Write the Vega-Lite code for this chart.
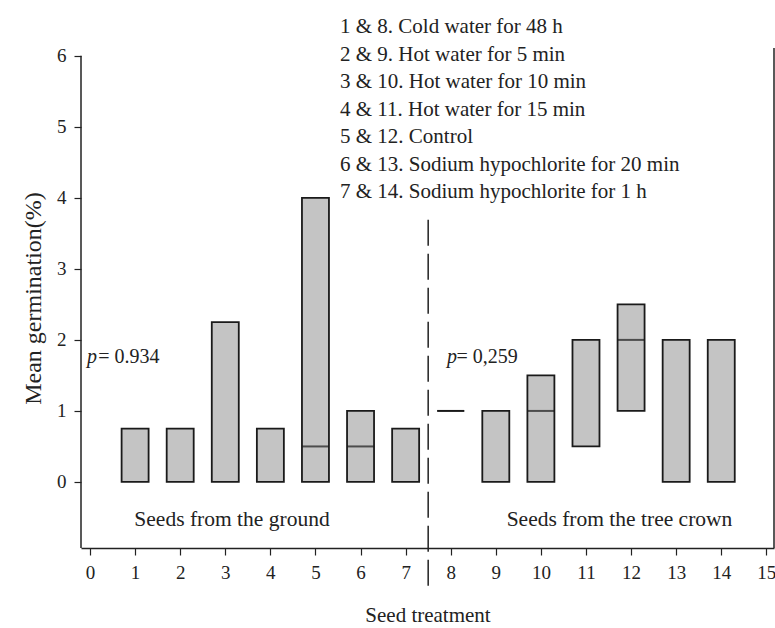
{
  "$schema": "https://vega.github.io/schema/vega-lite/v6.json",
  "width": 693,
  "height": 500,
  "autosize": "none",
  "padding": {"left": 81, "top": 48, "right": 1, "bottom": 80},
  "background": "white",
  "data": {"values": [{}]},
  "config": {
    "view": {"stroke": null},
    "font": "Liberation Serif",
    "axis": {"grid": false, "domainColor": "#222", "tickColor": "#222", "labelColor": "#222", "titleColor": "#222", "labelFont": "Liberation Serif", "titleFont": "Liberation Serif", "titleFontWeight": "normal", "domainWidth": 1.5, "tickWidth": 1.2}
  },
  "datasets": {
    "boxes": [
      {"treatment": 1, "low": 0, "high": 0.75, "median": null},
      {"treatment": 2, "low": 0, "high": 0.75, "median": null},
      {"treatment": 3, "low": 0, "high": 2.25, "median": null},
      {"treatment": 4, "low": 0, "high": 0.75, "median": null},
      {"treatment": 5, "low": 0, "high": 4, "median": 0.5},
      {"treatment": 6, "low": 0, "high": 1, "median": 0.5},
      {"treatment": 7, "low": 0, "high": 0.75, "median": null},
      {"treatment": 8, "low": 1, "high": 1, "median": 1},
      {"treatment": 9, "low": 0, "high": 1, "median": null},
      {"treatment": 10, "low": 0, "high": 1.5, "median": 1},
      {"treatment": 11, "low": 0.5, "high": 2, "median": null},
      {"treatment": 12, "low": 1, "high": 2.5, "median": 2},
      {"treatment": 13, "low": 0, "high": 2, "median": null},
      {"treatment": 14, "low": 0, "high": 2, "median": null}
    ]
  },
  "layer": [
    {
      "data": {"name": "boxes"},
      "mark": {"type": "bar", "width": 27, "fill": "#c4c4c4", "stroke": "#1a1a1a", "strokeWidth": 1.8},
      "encoding": {
        "x": {"field": "treatment", "type": "quantitative", "scale": {"domain": [-0.2, 15.17], "nice": false, "zero": false, "padding": 0},
          "axis": {"values": [0,1,2,3,4,5,6,7,8,9,10,11,12,13,14,15], "format": "d", "title": "Seed treatment", "labelFontSize": 19, "titleFontSize": 21, "tickSize": 7, "labelPadding": 8, "titlePadding": 22, "labelFlush": false}},
        "y": {"field": "low", "type": "quantitative", "scale": {"domain": [-0.93, 6.11], "nice": false, "zero": false, "padding": 0},
          "axis": {"values": [0,1,2,3,4,5,6], "format": "d", "title": "Mean germination(%)", "labelFontSize": 19, "titleFontSize": 24, "tickSize": 7, "labelPadding": 8, "titlePadding": 11, "domain": false}},
        "y2": {"field": "high"}
      }
    },
    {
      "data": {"name": "boxes"},
      "transform": [{"filter": "datum.median != null"}],
      "mark": {"type": "tick", "orient": "horizontal", "size": 27, "thickness": 2, "color": "#1a1a1a"},
      "encoding": {
        "x": {"field": "treatment", "type": "quantitative"},
        "y": {"field": "median", "type": "quantitative"}
      }
    },
    {
      "mark": {"type": "rule", "color": "#222", "strokeWidth": 1.5},
      "encoding": {"x": {"datum": -0.2}, "y": {"datum": -0.93}, "y2": {"datum": 6}}
    },
    {
      "mark": {"type": "rule", "color": "#222", "strokeWidth": 1.5},
      "encoding": {"x": {"datum": 15.17}, "y": {"datum": -0.93}, "y2": {"datum": 6.11}}
    },
    {
      "mark": {"type": "rule", "color": "#222", "strokeWidth": 1.5, "strokeDash": [26, 8]},
      "encoding": {"x": {"datum": 7.5}, "y": {"datum": -1.46}, "y2": {"datum": 3.69}}
    },
    {
      "mark": {"type": "text", "align": "left", "baseline": "top", "fontSize": 21, "lineHeight": 27.5, "color": "#222",
        "text": ["1 & 8. Cold water for 48 h", "2 & 9. Hot water for 5 min", "3 & 10. Hot water for 10 min", "4 & 11. Hot water for 15 min", "5 & 12. Control", "6 & 13. Sodium hypochlorite for 20 min", "7 & 14. Sodium hypochlorite for 1 h"]},
      "encoding": {"x": {"datum": 5.544}, "y": {"datum": 6.56}}
    },
    {
      "mark": {"type": "text", "align": "left", "baseline": "middle", "fontSize": 20, "fontStyle": "italic", "color": "#222", "text": "p"},
      "encoding": {"x": {"datum": -0.067}, "y": {"datum": 1.76}}
    },
    {
      "mark": {"type": "text", "align": "left", "baseline": "middle", "fontSize": 20, "color": "#222", "text": "= 0.934"},
      "encoding": {"x": {"datum": 0.18}, "y": {"datum": 1.76}}
    },
    {
      "mark": {"type": "text", "align": "left", "baseline": "middle", "fontSize": 20, "fontStyle": "italic", "color": "#222", "text": "p"},
      "encoding": {"x": {"datum": 7.917}, "y": {"datum": 1.76}}
    },
    {
      "mark": {"type": "text", "align": "left", "baseline": "middle", "fontSize": 20, "color": "#222", "text": "= 0,259"},
      "encoding": {"x": {"datum": 8.13}, "y": {"datum": 1.76}}
    },
    {
      "mark": {"type": "text", "align": "center", "baseline": "middle", "fontSize": 21.5, "color": "#222", "text": "Seeds from the ground"},
      "encoding": {"x": {"datum": 3.149}, "y": {"datum": -0.535}}
    },
    {
      "mark": {"type": "text", "align": "center", "baseline": "middle", "fontSize": 21.5, "color": "#222", "text": "Seeds from the tree crown"},
      "encoding": {"x": {"datum": 11.743}, "y": {"datum": -0.535}}
    }
  ]
}
